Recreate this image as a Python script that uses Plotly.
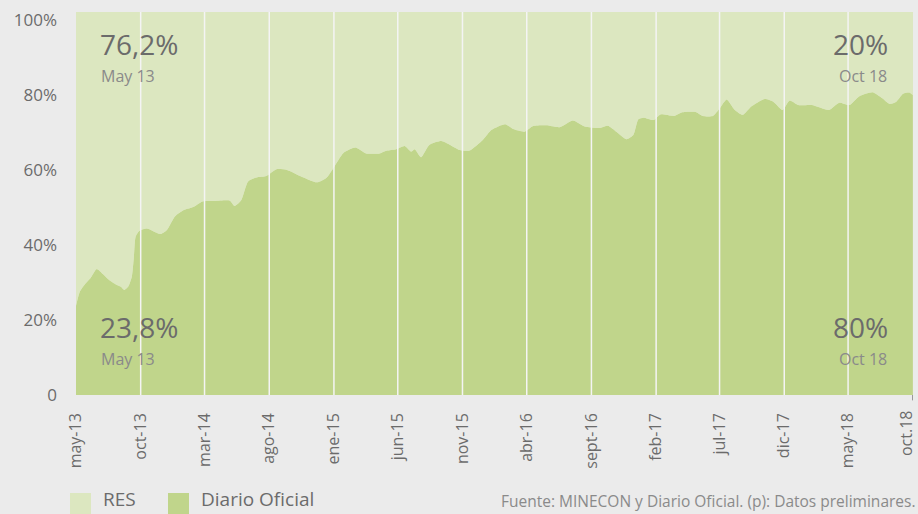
import plotly.graph_objects as go

# ---- data ----
dates = [
    "2013-05-01", "2013-05-10", "2013-05-22", "2013-06-04", "2013-06-19", "2013-07-04",
    "2013-07-20", "2013-08-06", "2013-08-16", "2013-08-23", "2013-09-02", "2013-09-10",
    "2013-09-15", "2013-09-19", "2013-09-28", "2013-10-16", "2013-11-01", "2013-11-17",
    "2013-12-02", "2013-12-21", "2014-01-11", "2014-02-04", "2014-02-24", "2014-03-25",
    "2014-04-30", "2014-05-11", "2014-05-27", "2014-06-12", "2014-07-02", "2014-07-25",
    "2014-08-18", "2014-09-12", "2014-10-13", "2014-11-22", "2014-12-15", "2015-01-08",
    "2015-01-24", "2015-02-21", "2015-03-18", "2015-04-19", "2015-05-05", "2015-05-28",
    "2015-06-17", "2015-07-03", "2015-07-11", "2015-07-26", "2015-08-15", "2015-09-12",
    "2015-10-02", "2015-10-25", "2015-11-18", "2015-12-19", "2016-01-09", "2016-02-10",
    "2016-02-29", "2016-03-27", "2016-04-16", "2016-05-17", "2016-06-18", "2016-07-19",
    "2016-08-16", "2016-09-21", "2016-10-10", "2016-10-30", "2016-11-23", "2016-12-09",
    "2016-12-21", "2017-01-02", "2017-01-26", "2017-02-11", "2017-03-16", "2017-04-02",
    "2017-05-07", "2017-05-22", "2017-06-15", "2017-07-01", "2017-07-18", "2017-08-06",
    "2017-08-25", "2017-09-14", "2017-10-16", "2017-11-05", "2017-11-27", "2017-12-14",
    "2018-01-03", "2018-02-04", "2018-03-17", "2018-04-10", "2018-05-04", "2018-05-27",
    "2018-06-28", "2018-07-21", "2018-08-07", "2018-08-23", "2018-09-08", "2018-09-24",
    "2018-10-01",
]
diario_oficial = [
    23.8, 27.5, 29.5, 31.1, 33.6, 32.2,
    30.5, 29.3, 28.8, 28.0, 29.0, 31.5,
    37.0, 42.2, 43.8, 44.4, 43.6, 42.9,
    44.0, 47.6, 49.3, 50.2, 51.6, 51.7,
    51.8, 50.4, 52.0, 56.9, 58.0, 58.4,
    60.2, 60.0, 58.4, 56.7, 58.0, 62.0,
    64.6, 66.0, 64.4, 64.4, 65.1, 65.5,
    66.4, 64.9, 65.5, 63.4, 66.7, 67.7,
    66.7, 65.3, 65.2, 68.0, 70.7, 72.2,
    70.9, 70.2, 71.7, 71.9, 71.4, 73.2,
    71.6, 71.2, 71.8, 70.2, 68.2, 69.3,
    73.5, 73.9, 73.3, 74.8, 74.4, 75.3,
    75.4, 74.4, 74.4, 76.4, 78.8, 76.0,
    74.7, 76.9, 78.9, 78.2, 76.0, 78.5,
    77.3, 77.3, 76.0, 77.9, 77.3, 79.6,
    80.7, 79.1, 77.6, 78.2, 80.3, 80.6,
    80.0,
]
res = [round(100 - v, 1) for v in diario_oficial]

tick_dates = ["2013-05-01", "2013-10-01", "2014-03-01", "2014-08-01", "2015-01-01",
              "2015-06-01", "2015-11-01", "2016-04-01", "2016-09-01", "2017-02-01",
              "2017-07-01", "2017-12-01", "2018-05-01", "2018-10-01"]
tick_labels = ["may-13", "oct-13", "mar-14", "ago-14", "ene-15", "jun-15", "nov-15",
               "abr-16", "sept-16", "feb-17", "jul-17", "dic-17", "may-18", "oct.18"]
y_ticks = [0, 20, 40, 60, 80, 100]
y_labels = ["0", "20%", "40%", "60%", "80%", "100%"]

DARK = "#c0d58b"
LIGHT = "#dce7c0"
BG = "#ebebeb"
TXT = "#6b6b6b"
TXT2 = "#8a8a8a"
FONT = "Open Sans"

fig = go.Figure()
fig.add_trace(go.Scatter(
    x=dates, y=diario_oficial, name="Diario Oficial", stackgroup="one",
    mode="lines", line=dict(width=0, shape="spline", smoothing=0.6),
    fillcolor=DARK, hoverinfo="skip", showlegend=False))
fig.add_trace(go.Scatter(
    x=dates, y=res, name="RES", stackgroup="one",
    mode="lines", line=dict(width=0, shape="spline", smoothing=0.6),
    fillcolor=LIGHT, hoverinfo="skip", showlegend=False))

# white vertical gridlines above the areas
for d in tick_dates[1:-1]:
    fig.add_shape(type="line", xref="x", yref="paper", x0=d, x1=d, y0=0, y1=1,
                  line=dict(color="#f4f4f4", width=1.5), layer="above")
# small tick mark at the last category
fig.add_shape(type="line", xref="x", yref="paper", x0=tick_dates[-1], x1=tick_dates[-1],
              y0=0, y1=-0.014, line=dict(color="#777777", width=1))

fig.update_layout(
    width=918, height=514,
    margin=dict(l=76, r=5, t=12, b=119, autoexpand=False),
    paper_bgcolor=BG, plot_bgcolor=LIGHT,
    font=dict(family=FONT, color=TXT, size=15),
    showlegend=False,
)
# last label is placed as an annotation so that it stays inside the page
fig.update_xaxes(
    type="date", range=[dates[0], "2018-10-01 12:00"],
    tickvals=tick_dates[:-1], ticktext=tick_labels[:-1], tickangle=-90,
    showgrid=False, zeroline=False, showline=False, ticks="",
    ticklabelstandoff=14, automargin=False,
    tickfont=dict(size=16, color=TXT, family=FONT),
)
fig.update_yaxes(
    range=[0, 102.1], tickvals=y_ticks, ticktext=y_labels,
    showgrid=False, zeroline=False, showline=False, ticks="",
    ticklabelstandoff=18, automargin=False,
    tickfont=dict(size=17, color=TXT, family=FONT),
)

pw = 918 - 76 - 5
ph = 514 - 12 - 119
def px(xp):
    return (xp - 76) / pw
def py(yp):
    return (395 - yp) / ph

fig.add_annotation(xref="paper", yref="paper", x=px(918), y=py(409),
                   text=tick_labels[-1], textangle=-90, showarrow=False,
                   xanchor="right", yanchor="top", borderpad=0,
                   font=dict(size=16, color=TXT, family=FONT))

def big(x, yb, text, anchor):
    fig.add_annotation(xref="paper", yref="paper", x=px(x), y=py(yb), text=text,
                       showarrow=False, xanchor=anchor, yanchor="bottom",
                       font=dict(size=28, color=TXT, family=FONT))

def small(x, yt, text, anchor):
    fig.add_annotation(xref="paper", yref="paper", x=px(x), y=py(yt), text=text,
                       showarrow=False, xanchor=anchor, yanchor="top",
                       font=dict(size=16, color=TXT2, family=FONT))

big(98, 65, "76,2%", "left")
small(99, 63, "May 13", "left")
big(98, 348, "23,8%", "left")
small(99, 346, "May 13", "left")
big(890, 65, "20%", "right")
small(889, 63, "Oct 18", "right")
big(890, 348, "80%", "right")
small(889, 346, "Oct 18", "right")

# legend (drawn manually)
fig.add_shape(type="rect", xref="paper", yref="paper", x0=px(70), x1=px(91),
              y0=py(514), y1=py(493), fillcolor=LIGHT, line=dict(width=0))
fig.add_shape(type="rect", xref="paper", yref="paper", x0=px(168), x1=px(189),
              y0=py(514), y1=py(493), fillcolor=DARK, line=dict(width=0))
fig.add_annotation(xref="paper", yref="paper", x=px(101), y=py(514), text="RES",
                   showarrow=False, xanchor="left", yanchor="bottom",
                   font=dict(size=19, color=TXT, family=FONT))
fig.add_annotation(xref="paper", yref="paper", x=px(199), y=py(514), text="Diario Oficial",
                   showarrow=False, xanchor="left", yanchor="bottom",
                   font=dict(size=19, color=TXT, family=FONT))
fig.add_annotation(xref="paper", yref="paper", x=px(918), y=py(514),
                   text="Fuente: MINECON y Diario Oficial. (p): Datos preliminares.",
                   showarrow=False, xanchor="right", yanchor="bottom",
                   font=dict(size=15.5, color=TXT2, family=FONT))

fig.write_html("out.html",
               config={"displayModeBar": False},
               post_script="document.body.style.margin='0';"
                           "document.body.style.overflow='hidden';")
